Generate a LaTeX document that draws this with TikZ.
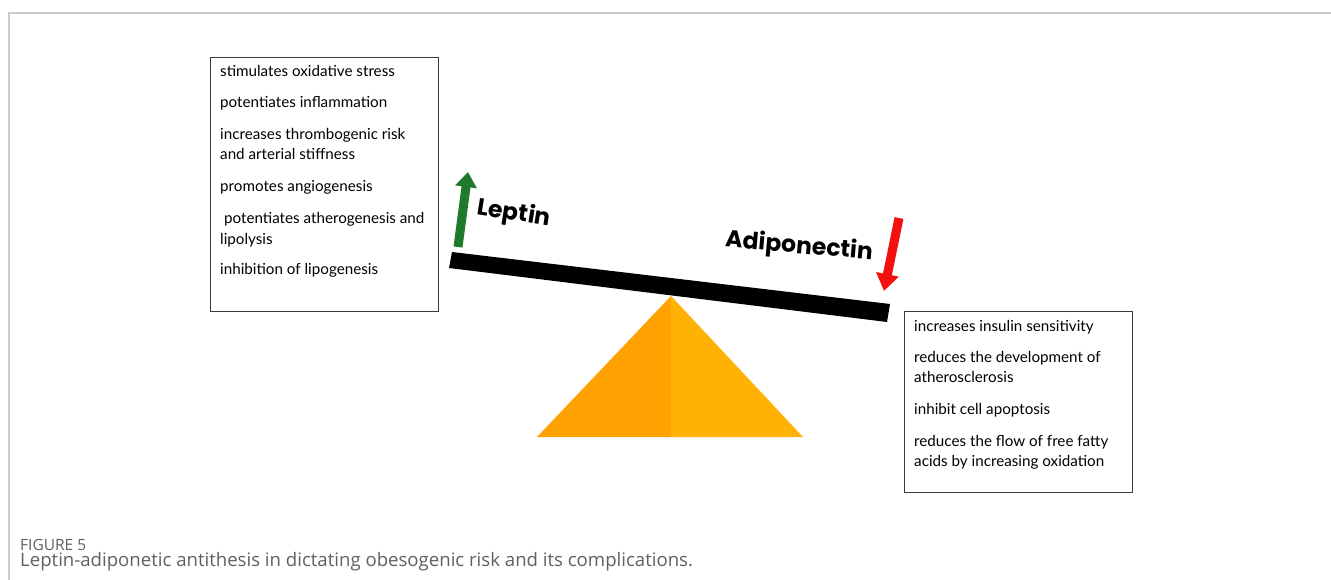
\documentclass[tikz,border=0pt]{standalone}
\usepackage{fontspec}
\setmainfont{Lato}
\newfontfamily\headfont{Poppins}
\newfontfamily\capfont{Open Sans}
\usetikzlibrary{arrows.meta}
\definecolor{frameGray}{HTML}{CCCCCC}
\definecolor{boxEdge}{HTML}{3A3A3A}
\definecolor{leftOrange}{HTML}{FFA100}
\definecolor{rightOrange}{HTML}{FFB203}
\definecolor{upGreen}{HTML}{1F7A2C}
\definecolor{downRed}{HTML}{F51010}
\definecolor{capGray}{HTML}{606060}
\begin{document}
\begin{tikzpicture}[x=1pt,y=-1pt,
  listbox/.style={draw=boxEdge,line width=1pt,anchor=north west,inner sep=0pt},
  item/.style={anchor=base west,inner sep=0pt,font=\fontsize{15.2}{18}\selectfont},
  hormone/.style={inner sep=0pt,font=\headfont\bfseries\fontsize{23.5}{26}\selectfont},
  arrowshaft/.style={line width=9pt}
]
\useasboundingbox (0,0) rectangle (1331,580);
% page frame
\draw[frameGray,line width=1.5pt] (9,580) -- (9,13) -- (1331,13);

% left list
\node[listbox,minimum width=228pt,minimum height=254pt] (lbox) at (210,57) {};
\node[item] (l1) at (220,77)  {stimulates oxidative stress};
\node[item] (l2) at (220,108) {potentiates inflammation};
\node[item] (l3) at (220,140) {increases thrombogenic risk};
\node[item] (l3b) at (220,160) {and arterial stiffness};
\node[item] (l4) at (220,192) {promotes angiogenesis};
\node[item] (l5) at (220,224) {\ potentiates atherogenesis and};
\node[item] (l5b) at (220,244) {lipolysis};
\node[item] (l6) at (220,275) {inhibition of lipogenesis};

% right list
\node[listbox,minimum width=228pt,minimum height=181pt] (rbox) at (904,311) {};
\node[item] (r1) at (914,331) {increases insulin sensitivity};
\node[item] (r2) at (914,362) {reduces the development of};
\node[item] (r2b) at (914,382) {atherosclerosis};
\node[item] (r3) at (914,414) {inhibit cell apoptosis};
\node[item] (r4) at (914,446) {reduces the flow of free fatty};
\node[item] (r4b) at (914,466) {acids by increasing oxidation};

% fulcrum
\coordinate (apex) at (671,296);
\coordinate (baseL) at (537,437);
\coordinate (baseM) at (671,437);
\coordinate (baseR) at (803,437);
\fill[leftOrange] (apex) -- (baseL) -- (baseM) -- cycle;
\fill[rightOrange] (apex) -- (baseM) -- (baseR) -- cycle;

% tilted beam
\fill[black] (452,252) -- (890,304) -- (887,322) -- (449,268) -- cycle;

% hormone labels
\node[hormone,rotate=-9] (leptin) at (514,214) {Leptin};
\node[hormone,rotate=-5] (adipo) at (799,247) {Adiponectin};

% up / down arrows
\coordinate (gbase) at (458,247);
\coordinate (gtip) at (468,172);
\draw[upGreen,arrowshaft,-{Triangle[width=21pt,length=15pt]}] (gbase) -- (gtip);
\coordinate (rbase) at (899,218);
\coordinate (rtip) at (884,291);
\draw[downRed,arrowshaft,-{Triangle[width=22pt,length=17pt]}] (rbase) -- (rtip);

% caption
\node[anchor=base west,inner sep=0pt,text=capGray,font=\capfont\fontsize{15.5}{18}\selectfont] (fig) at (20,550) {FIGURE 5};
\node[anchor=base west,inner sep=0pt,text=capGray,font=\capfont\fontsize{18.6}{22}\selectfont] (cap) at (20,566) {Leptin-adiponetic antithesis in dictating obesogenic risk and its complications.};
\end{tikzpicture}
\end{document}
